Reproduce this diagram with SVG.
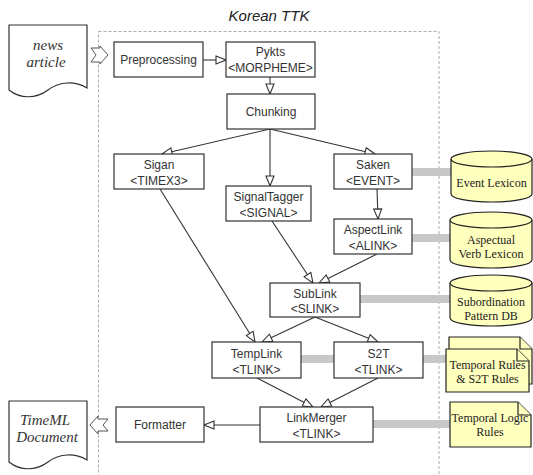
<svg xmlns="http://www.w3.org/2000/svg" width="533" height="475" viewBox="0 0 533 475">
<style>
.box{fill:#fff;stroke:#333;stroke-width:1.2}
.t{font-family:"Liberation Sans",Arial,sans-serif;font-size:12px;fill:#333;text-anchor:middle}
.s{font-family:"Liberation Serif","Times New Roman",serif;font-size:12px;fill:#222;text-anchor:middle}
.doc{fill:#fff;stroke:#333;stroke-width:1.2}
.dt{font-family:"Liberation Serif","Times New Roman",serif;font-style:italic;font-size:15px;fill:#333;text-anchor:middle}
.db{fill:#ffffbe;stroke:#222;stroke-width:1.2}
.ln{fill:none;stroke:#333;stroke-width:1.1;marker-end:url(#tri)}
.gb{stroke:#c8c8c8;stroke-width:8;fill:none}
.blk{fill:#fff;stroke:#555;stroke-width:1}
</style>
<defs>
<marker id="tri" markerWidth="12" markerHeight="12" viewBox="0 0 12 12" refX="11" refY="5" orient="auto" markerUnits="userSpaceOnUse">
<path d="M1,1 L11,5 L1,9 Z" fill="#fff" stroke="#333" stroke-width="1.1"/>
</marker>
</defs>
<rect width="533" height="475" fill="#fff"/>
<rect x="98.5" y="31.5" width="340.5" height="460" fill="none" stroke="#aaa" stroke-width="1" stroke-dasharray="3,2"/>
<text x="269" y="21" font-family="Liberation Sans,Arial,sans-serif" font-style="italic" font-size="15" fill="#222" text-anchor="middle">Korean TTK</text>

<g id="connectors">
<line class="ln" x1="203" y1="60" x2="226" y2="60"/>
<line class="ln" x1="270" y1="77" x2="270" y2="94"/>
<line class="ln" x1="270" y1="129" x2="162" y2="154"/>
<line class="ln" x1="270" y1="129" x2="270" y2="186"/>
<line class="ln" x1="270" y1="129" x2="375" y2="154"/>
<line class="ln" x1="377" y1="189" x2="378" y2="219"/>
<line class="ln" x1="272" y1="221" x2="313" y2="283"/>
<line class="ln" x1="377" y1="254" x2="319" y2="283"/>
<line class="ln" x1="160" y1="189" x2="255" y2="342"/>
<line class="ln" x1="315" y1="317" x2="262" y2="342"/>
<line class="ln" x1="315" y1="317" x2="378" y2="342"/>
<line class="ln" x1="257" y1="378" x2="313" y2="407"/>
<line class="ln" x1="378" y1="378" x2="321" y2="407"/>
<line class="ln" x1="260" y1="425" x2="204" y2="425"/>
<line class="gb" x1="412" y1="172" x2="452" y2="172"/>
<line class="gb" x1="412" y1="238" x2="451" y2="238"/>
<line class="gb" x1="360" y1="299" x2="451" y2="299"/>
<line class="gb" x1="301" y1="359" x2="334" y2="359"/>
<line class="gb" x1="423" y1="359" x2="447" y2="359"/>
<line class="gb" x1="373" y1="424" x2="451" y2="424"/>
<polygon class="blk" points="91,48 100,48 100,46 108,55 100,64 100,62 91,62 96,55"/>
<polygon class="blk" points="90,425 98,416 98,419 108,419 103,425 108,431 98,431 98,434"/>
</g>

<g id="news-article">
<path class="doc" d="M9,25 H87 V88 C75,81 60,81 48,90 C36,99 20,99 9,90 Z"/>
<text class="dt" x="48" y="50">news</text>
<text class="dt" x="46" y="67">article</text>
</g>

<g id="timeml-document">
<path class="doc" d="M9,401 H87 V460 C75,453 60,453 48,462 C36,471 20,471 9,462 Z"/>
<text class="dt" x="45" y="425">TimeML</text>
<text class="dt" x="47" y="442">Document</text>
</g>

<g id="preprocessing">
<rect class="box" x="114" y="42" width="89" height="35"/>
<text class="t" x="158.5" y="64">Preprocessing</text>
</g>

<g id="pykts">
<rect class="box" x="226" y="42" width="89" height="35"/>
<text class="t" x="270.5" y="56">Pykts</text>
<text class="t" x="270.5" y="72">&lt;MORPHEME&gt;</text>
</g>

<g id="chunking">
<rect class="box" x="227" y="94" width="88" height="35"/>
<text class="t" x="271" y="116">Chunking</text>
</g>

<g id="sigan">
<rect class="box" x="114" y="154" width="90" height="35"/>
<text class="t" x="159" y="169">Sigan</text>
<text class="t" x="159" y="185">&lt;TIMEX3&gt;</text>
</g>

<g id="signaltagger">
<rect class="box" x="226" y="186" width="85" height="35"/>
<text class="t" x="268.5" y="201">SignalTagger</text>
<text class="t" x="268.5" y="217">&lt;SIGNAL&gt;</text>
</g>

<g id="saken">
<rect class="box" x="334" y="154" width="78" height="35"/>
<text class="t" x="373" y="169">Saken</text>
<text class="t" x="373" y="185">&lt;EVENT&gt;</text>
</g>

<g id="aspectlink">
<rect class="box" x="334" y="219" width="78" height="35"/>
<text class="t" x="373" y="234">AspectLink</text>
<text class="t" x="373" y="250">&lt;ALINK&gt;</text>
</g>

<g id="sublink">
<rect class="box" x="270" y="283" width="90" height="34"/>
<text class="t" x="315" y="298">SubLink</text>
<text class="t" x="315" y="313">&lt;SLINK&gt;</text>
</g>

<g id="templink">
<rect class="box" x="212" y="342" width="89" height="36"/>
<text class="t" x="256.5" y="358">TempLink</text>
<text class="t" x="256.5" y="374">&lt;TLINK&gt;</text>
</g>

<g id="s2t">
<rect class="box" x="334" y="342" width="89" height="36"/>
<text class="t" x="378.5" y="358">S2T</text>
<text class="t" x="378.5" y="374">&lt;TLINK&gt;</text>
</g>

<g id="linkmerger">
<rect class="box" x="260" y="407" width="113" height="35"/>
<text class="t" x="316.5" y="422">LinkMerger</text>
<text class="t" x="316.5" y="438">&lt;TLINK&gt;</text>
</g>

<g id="formatter">
<rect class="box" x="116" y="407" width="88" height="35"/>
<text class="t" x="160" y="429">Formatter</text>
</g>

<g id="event-lexicon">
<path class="db" d="M451,159 A40.5,8 0 0 1 532,159 V194 A40.5,8 0 0 1 451,194 Z"/>
<path class="db" d="M451,159 A40.5,8 0 0 0 532,159" fill="none"/>
<text class="s" x="491.5" y="187">Event Lexicon</text>
</g>

<g id="aspectual-verb-lexicon">
<path class="db" d="M450,220 A41,8 0 0 1 532,220 V260 A41,8 0 0 1 450,260 Z"/>
<path class="db" d="M450,220 A41,8 0 0 0 532,220" fill="none"/>
<text class="s" x="491" y="244">Aspectual</text>
<text class="s" x="491" y="258">Verb Lexicon</text>
</g>

<g id="subordination-pattern-db">
<path class="db" d="M450,283 A41,8 0 0 1 532,283 V318 A41,8 0 0 1 450,318 Z"/>
<path class="db" d="M450,283 A41,8 0 0 0 532,283" fill="none"/>
<text class="s" x="491" y="306">Subordination</text>
<text class="s" x="491" y="320">Pattern DB</text>
</g>

<g id="temporal-rules">
<path class="db" d="M449,337 H520 L532,349 V384 H449 Z"/>
<path class="db" d="M520,337 V349 H532" fill="none"/>
<path class="db" d="M446,349 H517 L529,361 V392 H446 Z"/>
<path class="db" d="M517,349 V361 H529" fill="none"/>
<text class="s" x="487.5" y="369" font-size="11.5">Temporal Rules</text>
<text class="s" x="487.5" y="383" font-size="11.5">&amp; S2T Rules</text>
</g>

<g id="temporal-logic-rules">
<path class="db" d="M450,402 H518 L531,415 V447 H450 Z"/>
<path class="db" d="M518,402 V415 H531" fill="none"/>
<text class="s" x="490" y="422" font-size="11.5">Temporal Logic</text>
<text class="s" x="490" y="436" font-size="11.5">Rules</text>
</g>
</svg>
